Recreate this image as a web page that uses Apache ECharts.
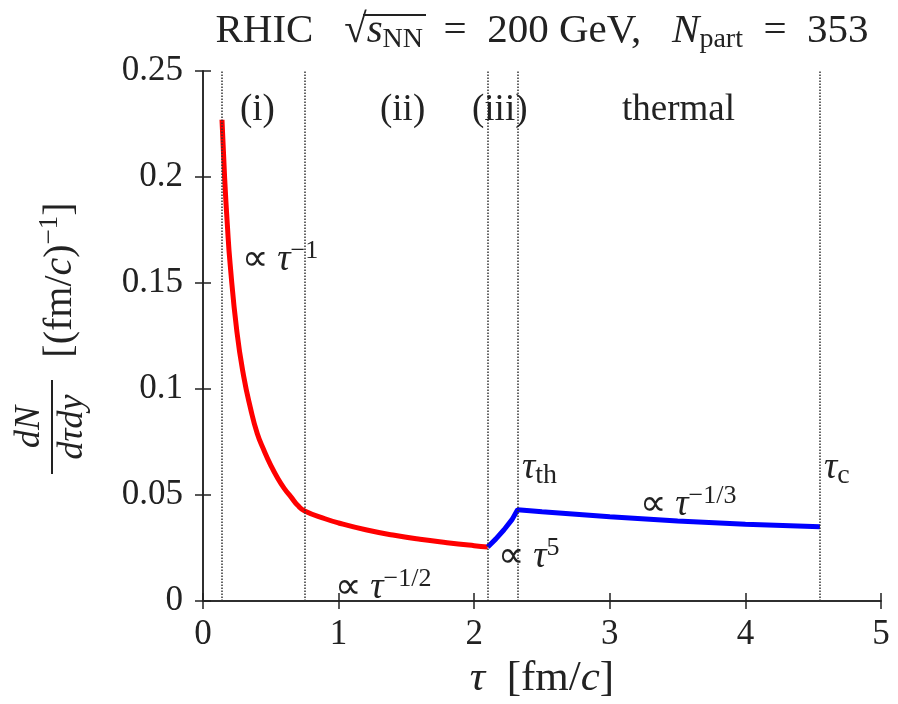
<!DOCTYPE html>
<html>
<head>
<meta charset="utf-8">
<script src="https://cdn.jsdelivr.net/npm/echarts@6/dist/echarts.min.js"></script>
<style>
  html, body { margin: 0; padding: 0; background: #fff; }
  #main { width: 898px; height: 704px; }
</style>
</head>
<body>
<div id="main"></div>
<script>
// red curve: stages (i) and (ii)
var redTau = [0.14, 0.16, 0.18, 0.2, 0.25, 0.3, 0.35, 0.4, 0.45, 0.5, 0.55, 0.6, 0.65, 0.7, 0.75,
              0.9, 1.0, 1.2, 1.4, 1.6, 1.8, 2.0, 2.1];
var redVal = [0.227, 0.199, 0.177, 0.159, 0.127, 0.106, 0.091, 0.079, 0.071, 0.064, 0.058, 0.053, 0.049, 0.045, 0.0425,
              0.0388, 0.0368, 0.0336, 0.0311, 0.0291, 0.0275, 0.0261, 0.0255];
// blue curve: stage (iii) and thermal
var blueTau = [2.1, 2.16, 2.22, 2.28, 2.32, 2.5, 3.0, 3.5, 4.0, 4.55];
var blueVal = [0.0255, 0.0293, 0.0336, 0.0385, 0.043, 0.0421, 0.0397, 0.0377, 0.0362, 0.035];
// dotted stage boundaries
var stageTau = [0.14, 0.75, 2.1, 2.32, 4.55];

var xTicks = [0, 1, 2, 3, 4, 5];
var yTicks = [0, 0.05, 0.1, 0.15, 0.2, 0.25];

function pairs(xs, ys) {
    return xs.map(function (x, i) { return [x, ys[i]]; });
}

var FONT = 'Liberation Serif';
var FS = 37;
var chart = echarts.init(document.getElementById('main'));

var axisBase = {
    type: 'value',
    axisLine: { lineStyle: { color: '#222', width: 1.5 } },
    axisTick: { inside: true, length: 8, lineStyle: { color: '#222', width: 1.5 } },
    splitLine: { show: false }
};

var mainStyle = { fontFamily: FONT, fontSize: FS, lineHeight: 44, fill: '#222' };
var itStyle = { fontFamily: FONT, fontSize: FS, fontStyle: 'italic', lineHeight: 44, fill: '#222' };
var supStyle = { fontFamily: FONT, fontSize: 26, verticalAlign: 'top', lineHeight: 44, fill: '#222' };
var subStyle = { fontFamily: FONT, fontSize: 28, verticalAlign: 'bottom', lineHeight: 40, fill: '#222' };

function label(x, y, text, extra) {
    return {
        type: 'text', x: x, y: y, z: 10,
        style: Object.assign({
            text: text, fontFamily: FONT, fontSize: FS, fill: '#222',
            rich: { m: mainStyle, i: itStyle, sup: supStyle, sub: subStyle }
        }, extra || {})
    };
}

var titleRich = {
    m: { fontFamily: FONT, fontSize: 41, lineHeight: 46, fill: '#222' },
    i: { fontFamily: FONT, fontSize: 41, fontStyle: 'italic', lineHeight: 46, fill: '#222' },
    sub: { fontFamily: FONT, fontSize: 28, verticalAlign: 'bottom', lineHeight: 42, fill: '#222' }
};

chart.setOption({
    animation: false,
    backgroundColor: '#fff',
    grid: { left: 203, right: 17, top: 71, bottom: 103, outerBoundsMode: 'none', containLabel: false },
    xAxis: [
        Object.assign({}, axisBase, {
            min: 0, max: 5, interval: 1,
            axisLabel: { fontFamily: FONT, fontSize: 35, color: '#222', margin: 16 },
            name: '{i|τ}  [fm/{i|c}]',
            nameLocation: 'middle', nameGap: 52,
            nameTextStyle: {
                fontFamily: FONT, fontSize: 43, color: '#222',
                rich: { i: { fontFamily: FONT, fontSize: 43, fontStyle: 'italic', color: '#222' } }
            }
        }),
        Object.assign({}, axisBase, {
            position: 'top', min: 0, max: 5, interval: 1,
            axisLabel: { show: false }
        })
    ],
    yAxis: [
        Object.assign({}, axisBase, {
            min: 0, max: 0.25, interval: 0.05,
            axisLabel: { fontFamily: FONT, fontSize: 35, color: '#222', margin: 20 }
        }),
        Object.assign({}, axisBase, {
            position: 'right', min: 0, max: 0.25, interval: 0.05,
            axisLabel: { show: false }
        })
    ],
    series: [
        {
            type: 'line', data: pairs(redTau, redVal), smooth: true, symbol: 'none',
            lineStyle: { color: '#ff0000', width: 5 },
            markLine: {
                silent: true, symbol: 'none', animation: false,
                label: { show: false },
                lineStyle: { color: '#333', type: 'dotted', width: 1.5 },
                data: stageTau.map(function (t) { return { xAxis: t }; })
            }
        },
        {
            type: 'line', data: pairs(blueTau, blueVal), smooth: false, symbol: 'none',
            lineStyle: { color: '#0000ff', width: 5 }
        }
    ],
    graphic: [
        // title
        {
            type: 'text', x: 542, y: 8, z: 10,
            style: {
                text: '{m|RHIC   √}{i|s}{sub|NN}{m|  =  200 GeV,   }{i|N}{sub|part}{m|  =  353}',
                align: 'center', rich: titleRich
            }
        },
        // sqrt bar over s_NN
        {
            type: 'line', z: 10,
            shape: { x1: 363, y1: 15, x2: 426, y2: 15 },
            style: { stroke: '#222', lineWidth: 2 }
        },
        // stage names
        label(240, 92, '(i)'),
        label(380, 92, '(ii)'),
        label(472, 92, '(iii)'),
        label(622, 92, 'thermal'),
        // power laws
        label(242, 238, '{m|∝ }{i|τ}{sup|−1}'),
        label(335, 566, '{m|∝ }{i|τ}{sup|−1/2}'),
        label(498, 535, '{m|∝ }{i|τ}{sup|5}'),
        label(640, 483, '{m|∝ }{i|τ}{sup|−1/3}'),
        label(522, 446, '{i|τ}{sub|th}'),
        label(824, 446, '{i|τ}{sub|c}'),
        // y axis title (rotated)
        {
            type: 'group', x: 52, y: 427, rotation: Math.PI / 2,
            children: [
                {
                    type: 'text', x: 0, y: -4,
                    style: { text: 'dN', fontFamily: FONT, fontSize: 36, fontStyle: 'italic', fill: '#222',
                             align: 'center', verticalAlign: 'bottom' }
                },
                {
                    type: 'line', shape: { x1: -47, y1: 0, x2: 47, y2: 0 },
                    style: { stroke: '#222', lineWidth: 2 }
                },
                {
                    type: 'text', x: 0, y: 3,
                    style: { text: 'dτdy', fontFamily: FONT, fontSize: 36, fontStyle: 'italic', fill: '#222',
                             align: 'center', verticalAlign: 'top' }
                },
                {
                    type: 'text', x: 147, y: 8,
                    style: {
                        text: '[(fm/{i|c}){sup|−1}]', fontFamily: FONT, fontSize: 40, fill: '#222',
                        align: 'center', verticalAlign: 'middle',
                        rich: {
                            i: { fontFamily: FONT, fontSize: 40, fontStyle: 'italic', lineHeight: 48, fill: '#222' },
                            sup: { fontFamily: FONT, fontSize: 27, verticalAlign: 'top', lineHeight: 48, fill: '#222' }
                        }
                    }
                }
            ]
        }
    ]
});
</script>
</body>
</html>
